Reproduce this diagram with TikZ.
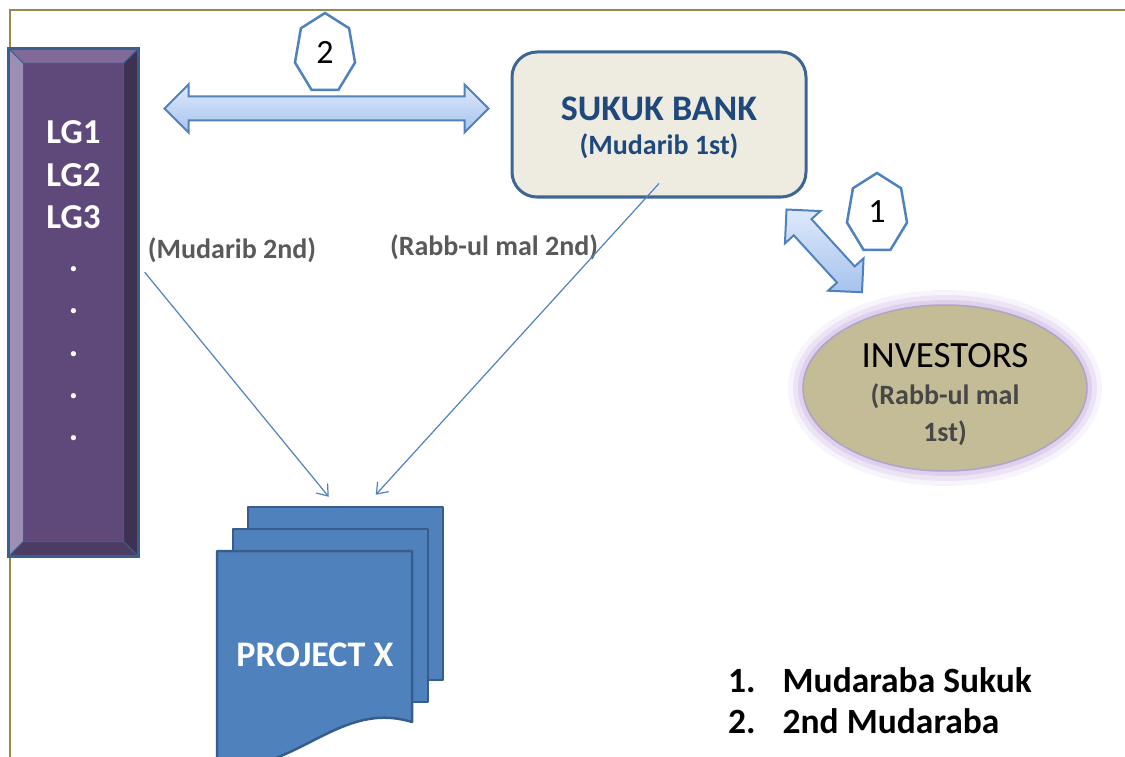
\documentclass[tikz,border=0pt]{standalone}
\usepackage{fontspec}
\setmainfont{Carlito}
\usetikzlibrary{shapes.geometric,arrows.meta,calc,positioning}

\definecolor{frameolive}{HTML}{948A54}
\definecolor{lgmain}{HTML}{5F497A}
\definecolor{lgtop}{HTML}{7F6A98}
\definecolor{lgleft}{HTML}{9D8FB4}
\definecolor{lgright}{HTML}{3F3152}
\definecolor{lgbottom}{HTML}{4C3C64}
\definecolor{lgedge}{HTML}{3A5F8F}
\definecolor{arrowtop}{HTML}{DDE9FA}
\definecolor{arrowbot}{HTML}{A6C3EE}
\definecolor{accent}{HTML}{4F81BD}
\definecolor{bankfill}{HTML}{EEECE1}
\definecolor{bankedge}{HTML}{3D6694}
\definecolor{banktext}{HTML}{1F497D}
\definecolor{invfill}{HTML}{C4BC96}
\definecolor{invedge}{HTML}{B3A2C7}
\definecolor{invglow}{HTML}{C9B5E4}
\definecolor{labelgray}{HTML}{595959}
\definecolor{projedge}{HTML}{385D8A}

\tikzset{
  frame/.style={draw=frameolive, line width=2.5pt},
  lgbar/.style={rectangle, fill=lgmain, draw=lgedge, line width=3pt,
    minimum width=127pt, minimum height=505pt, inner sep=0pt},
  bevel/.style={draw=lgedge, line width=1pt, line join=round},
  lgtext/.style={text=white, font=\fontsize{35}{40}\selectfont\bfseries,
    anchor=base, inner sep=0pt},
  blockarrow/.style={top color=arrowtop, bottom color=arrowbot,
    draw=accent, line width=2pt, line join=miter},
  heptline/.style={fill=white, draw=accent, line width=2.5pt, line join=miter},
  heptnum/.style={font=\fontsize{34}{40}\selectfont, inner sep=0pt},
  bankbox/.style={rectangle, rounded corners=25pt, fill=bankfill,
    draw=bankedge, line width=3pt, minimum width=294pt, minimum height=145pt},
  banktitle/.style={text=banktext, font=\fontsize{36}{40}\selectfont\bfseries,
    anchor=base, inner sep=0pt},
  bankrole/.style={text=banktext, font=\fontsize{28}{32}\selectfont\bfseries,
    anchor=base, inner sep=0pt},
  invnode/.style={ellipse, fill=invfill, draw=invedge, line width=1.5pt,
    minimum width=284pt, minimum height=166pt,
    preaction={draw=invglow, line width=30pt, draw opacity=0.15},
    preaction={draw=invglow, line width=20pt, draw opacity=0.25},
    preaction={draw=invglow, line width=10pt, draw opacity=0.4}},
  invtitle/.style={font=\fontsize{37}{40}\selectfont, anchor=base, inner sep=0pt},
  invrole/.style={text=black!72, font=\fontsize{28}{32}\selectfont\bfseries,
    anchor=base, inner sep=0pt},
  roletext/.style={text=labelgray, font=\fontsize{28}{32}\selectfont\bfseries,
    inner sep=2pt},
  flowline/.style={draw=accent, line width=1.2pt,
    -{Straight Barb[length=10pt, width=15pt, line width=1.2pt]}},
  sheet/.style={fill=accent, draw=projedge, line width=2.5pt, line join=round},
  sheetnode/.style={sheet, rectangle, minimum width=195pt, minimum height=173pt,
    inner sep=0pt},
  legend/.style={font=\fontsize{35.5}{41}\selectfont\bfseries, inner sep=0pt}
}

% double block arrow between two named coordinates
\newcommand{\dblarrow}[2]{%
  \coordinate (#1-h) at ($(#1)!24pt!(#2)$);
  \coordinate (#2-h) at ($(#2)!24pt!(#1)$);
  \draw[blockarrow] (#1) -- ($(#1-h)!24pt!90:(#2)$) -- ($(#1-h)!12pt!90:(#2)$)
    -- ($(#2-h)!12pt!-90:(#1)$) -- ($(#2-h)!24pt!-90:(#1)$) -- (#2)
    -- ($(#2-h)!24pt!90:(#1)$) -- ($(#2-h)!12pt!90:(#1)$)
    -- ($(#1-h)!12pt!-90:(#2)$) -- ($(#1-h)!24pt!-90:(#2)$) -- cycle;}

% stretched heptagon round a named coordinate
\newcommand{\heptagon}[1]{%
  \draw[heptline] ($(#1)+(0,-40.5)$)
    \foreach \k in {1,...,6}{ -- ($(#1)+({30.8*sin(\k*360/7)},{-40.5*cos(\k*360/7)})$)}
    -- cycle;}

\begin{document}
\begin{tikzpicture}[x=1pt, y=-1pt]
\useasboundingbox (0,0) rectangle (1125,757);
\draw[frame] (1125,10) -- (10,10) -- (10,757);

% LG column
\node[lgbar] (lg) at (73.5,302.5) {};
\draw[bevel, fill=lgtop] (lg.north west) -- (lg.north east) -- ([shift={(-15,15)}]lg.north east) -- ([shift={(15,15)}]lg.north west) -- cycle;
\draw[bevel, fill=lgleft] (lg.north west) -- ([shift={(15,15)}]lg.north west) -- ([shift={(15,-15)}]lg.south west) -- (lg.south west) -- cycle;
\draw[bevel, fill=lgright] (lg.north east) -- ([shift={(-15,15)}]lg.north east) -- ([shift={(-15,-15)}]lg.south east) -- (lg.south east) -- cycle;
\draw[bevel, fill=lgbottom] (lg.south west) -- ([shift={(15,-15)}]lg.south west) -- ([shift={(-15,-15)}]lg.south east) -- (lg.south east) -- cycle;
\draw[lgedge, line width=3pt] (lg.north west) rectangle (lg.south east);
\foreach \t [count=\i] in {LG1,LG2,LG3,.,.,.,.,.}
  \node[lgtext] (lg\i) at (73.5,{144+42.4*(\i-1)}) {\t};

% bank and investors
\node[bankbox] (bank) at (659,124.5) {};
\node[banktitle] (bankname) at (659,121) {SUKUK BANK};
\node[bankrole] (bankmud) at (659,155) {(Mudarib 1st)};
\node[invnode] (inv) at (945,388) {};
\node[invtitle] (invname) at (945,367) {INVESTORS};
\node[invrole] (invrab) at (945,404) {(Rabb-ul mal};
\node[invrole] (invfirst) at (945,441) {1st)};

% block arrows
\coordinate (a2l) at ($(lg.north east)+(26,60)$);
\coordinate (a2r) at ([xshift=-22pt]a2l -| bank.west);
\dblarrow{a2l}{a2r}
\coordinate (a1b) at ($(bank.south east)+(-21,11)$);
\coordinate (a1e) at ($(inv.north)+(-83,-12)$);
\dblarrow{a1b}{a1e}

% step numbers
\coordinate (h2) at (325,53.5);
\heptagon{h2}
\node[heptnum] (n2) at (325,52) {2};
\coordinate (h1) at (877,213.5);
\heptagon{h1}
\node[heptnum] (n1) at (877,212) {1};

% project sheets
\node[sheetnode] (projback) at (345.5,593.5) {};
\node[sheetnode] (projmid) at (330.5,615.5) {};
\draw[sheet] (217,551) -- (412,551) -- (412,722) .. controls (340,700) and (300,770) .. (217,770) -- cycle;
\node[text=white, font=\fontsize{36}{40}\selectfont\bfseries] (projx) at (315,655) {PROJECT X};

% roles
\node[roletext] (mud2) at (232,250) {(Mudarib 2nd)};
\node[roletext] (rab2) at (494,247) {(Rabb-ul mal 2nd)};
\draw[flowline] ([shift={(-1,7.5)}]mud2.south west) -- ([shift={(82,-9)}]projback.north west);
\draw[flowline] ([yshift=15pt]bank.south) -- ([shift={(129,-11)}]projback.north west);

% legend
\node[legend, anchor=base west] (key) at (728,692)
  {\begin{tabular}[t]{@{}l@{\hspace{27pt}}l@{}}1. & Mudaraba Sukuk\\ 2. & 2nd Mudaraba\end{tabular}};
\end{tikzpicture}
\end{document}
